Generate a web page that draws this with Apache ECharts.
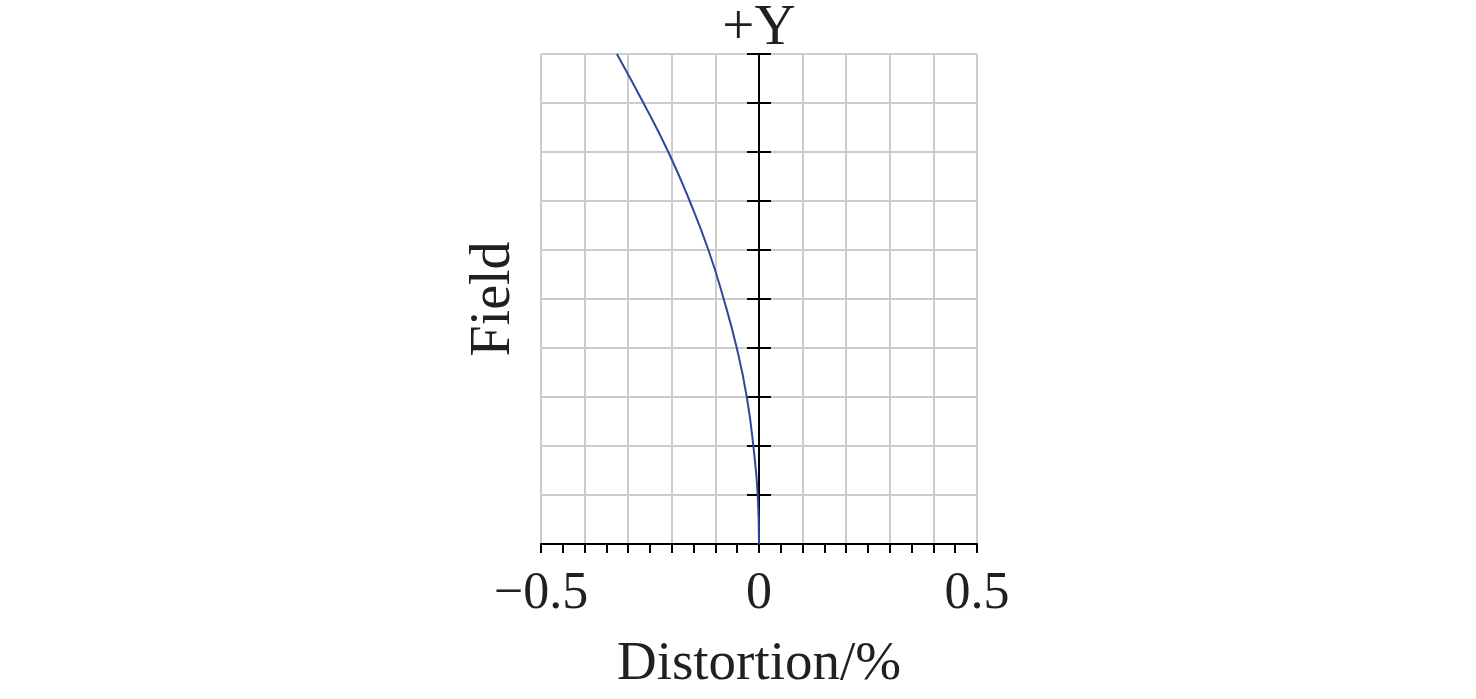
<!DOCTYPE html>
<html>
<head>
<meta charset="utf-8">
<script src="https://cdn.jsdelivr.net/npm/echarts@6/dist/echarts.min.js"></script>
<style>html,body{margin:0;padding:0;background:#fff}#c{width:1476px;height:699px}</style>
</head>
<body>
<div id="c"></div>
<script>
var field = [0, 0.1, 0.2, 0.3, 0.4, 0.5, 0.6, 0.7, 0.8, 0.9, 1.0];
var distortion = [0, -0.003, -0.013, -0.028, -0.051, -0.081, -0.116, -0.159, -0.208, -0.265, -0.326];
var xTickLabels = {'-0.5': '\u22120.5', '0': '0', '0.5': '0.5'};

var FONT = "'Liberation Serif','Times New Roman',serif";
var TXT = '#231f20';
var pts = field.map(function (f, i) { return [distortion[i], f]; });

var chart = echarts.init(document.getElementById('c'));
chart.setOption({
  animation: false,
  grid: {left: 541, right: 1476 - 977, top: 54, bottom: 699 - 544, containLabel: false, outerBoundsMode: 'none'},
  xAxis: {
    type: 'value', min: -0.5, max: 0.5, interval: 0.1,
    name: 'Distortion/%', nameLocation: 'middle', nameGap: 93,
    nameTextStyle: {fontFamily: FONT, fontSize: 55, color: TXT},
    axisLine: {onZero: false, lineStyle: {color: '#000', width: 2}},
    axisTick: {show: true, length: 9, lineStyle: {color: '#000', width: 2}},
    minorTick: {show: true, splitNumber: 2, length: 9, lineStyle: {color: '#000', width: 2}},
    axisLabel: {
      margin: 24, fontFamily: FONT, fontSize: 52, color: TXT, showMinLabel: true, showMaxLabel: true,
      formatter: function (v) {
        var k = String(Math.round(v * 10) / 10);
        return xTickLabels.hasOwnProperty(k) ? xTickLabels[k] : '';
      }
    },
    splitLine: {show: true, lineStyle: {color: '#cccccc', width: 2}}
  },
  yAxis: [
    {
      type: 'value', min: 0, max: 1, interval: 0.1,
      name: '+Y', nameLocation: 'end', nameGap: -4,
      nameTextStyle: {fontFamily: FONT, fontSize: 57, color: TXT},
      axisLine: {show: true, onZero: true, onZeroAxisIndex: 0, lineStyle: {color: '#000', width: 2}},
      axisTick: {show: true, inside: true, length: 12, lineStyle: {color: '#000', width: 2}},
      axisLabel: {show: false},
      splitLine: {show: true, lineStyle: {color: '#cccccc', width: 2}}
    },
    {
      type: 'value', min: 0, max: 1, interval: 0.1, position: 'left',
      axisLine: {show: true, onZero: true, onZeroAxisIndex: 0, lineStyle: {color: '#000', width: 2}},
      axisTick: {show: true, inside: false, length: 12, lineStyle: {color: '#000', width: 2}},
      axisLabel: {show: false},
      splitLine: {show: false}
    },
    {
      type: 'value', min: 0, max: 1, interval: 0.1, position: 'left',
      name: 'Field', nameLocation: 'middle', nameGap: 19,
      nameTextStyle: {fontFamily: FONT, fontSize: 56, color: TXT},
      axisLine: {show: false, onZero: false},
      axisTick: {show: false},
      axisLabel: {show: false},
      splitLine: {show: false}
    }
  ],
  series: [{
    type: 'line', data: pts, smooth: true, showSymbol: false, symbol: 'none',
    yAxisIndex: 0, z: 1,
    lineStyle: {color: '#30479b', width: 2}
  }]
});
</script>
</body>
</html>
